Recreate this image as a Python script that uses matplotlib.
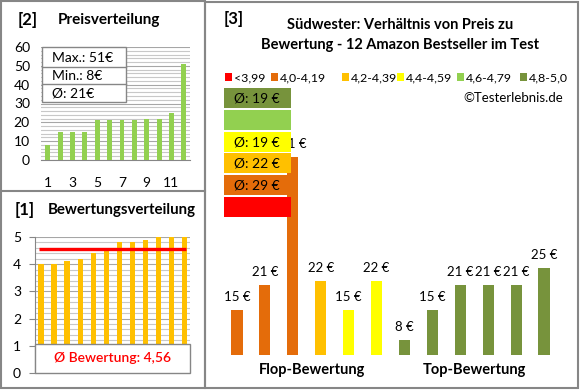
import matplotlib
matplotlib.use('Agg')
import matplotlib.pyplot as plt
from matplotlib.patches import Rectangle
import numpy as np

plt.rcParams['font.family'] = ['Lato', 'DejaVu Sans']

# [2] Preisverteilung (sorted prices)
price_ids = list(range(1, 13))
prices_sorted = [8, 15, 15, 15, 21, 21, 21, 21, 22, 22, 25, 51]
price_ticks = [1, 3, 5, 7, 9, 11]
price_stats = ["Max.: 51€", "Min.: 8€", "Ø: 21€"]

# [1] Bewertungsverteilung
ratings_sorted = [4.0, 4.0, 4.1, 4.2, 4.4, 4.5, 4.8, 4.8, 4.9, 5.0, 5.0, 5.0]
rating_avg = 4.56
rating_text = "Ø Bewertung: 4,56"

# [3] Preis zu Bewertung
bar_prices = [15, 21, 51, 22, 15, 22, 8, 15, 21, 21, 21, 25]
bar_class = [1, 1, 1, 2, 3, 3, 5, 5, 5, 5, 5, 5]
class_labels = ['<3,99', '4,0-4,19', '4,2-4,39', '4,4-4,59', '4,6-4,79', '4,8-5,0']
class_colors = ['#ff0000', '#e46c0a', '#ffc000', '#ffff00', '#92d050', '#77933c']
class_avg = ['', '29', '22', '19', '', '19']
group_labels = ['Flop-Bewertung', 'Top-Bewertung']

W, H = 580, 390
fig = plt.figure(figsize=(W / 100, H / 100), dpi=100)
fig.patch.set_facecolor('white')


def fx(px):
    return px / W


def fy(py):
    return 1 - py / H


def prect(x0, y0, x1, y1, **kw):
    r = Rectangle((fx(x0), fy(y1)), (x1 - x0) / W, (y1 - y0) / H,
                  transform=fig.transFigure, **kw)
    fig.add_artist(r)
    return r


def ptext(x, y, s, **kw):
    fig.text(fx(x), fy(y), s, **kw)


border = '#868686'
grid_major = '#a6a6a6'
grid_minor = '#c8c8c8'

# panel frames
prect(1, 1, 205, 388, fill=False, ec=border, lw=1.5, zorder=5)
prect(205, 2, 578, 388, fill=False, ec=border, lw=1.5, zorder=5)
fig.add_artist(plt.Line2D([fx(1), fx(205)], [fy(191), fy(191)],
                          transform=fig.transFigure, color=border, lw=1.5))

# ---- [2] Preisverteilung
ax2 = fig.add_axes([fx(41), fy(160), (190 - 41) / W, (160 - 47) / H])
ax2.bar(price_ids, prices_sorted, width=0.4, color='#92d050', zorder=3)
ax2.set_xlim(0.45, 12.5)
ax2.set_ylim(0, 60)
ax2.set_yticks(range(0, 61, 10))
ax2.set_yticks(range(0, 61, 2), minor=True)
ax2.set_xticks(price_ticks)
ax2.grid(axis='y', which='major', color=grid_major, lw=0.8)
ax2.grid(axis='y', which='minor', color=grid_minor, lw=0.8)
ax2.tick_params(axis='y', which='both', length=0, pad=8, labelsize=10)
ax2.tick_params(axis='x', length=0, pad=12, labelsize=10)
for s in ['top', 'right', 'left']:
    ax2.spines[s].set_visible(False)
ax2.spines['bottom'].set_color(border)

ptext(18, 20, '[2]', fontsize=12, fontweight='bold', va='center')
ptext(58, 20, 'Preisverteilung', fontsize=11, fontweight='bold', va='center')

prect(42, 47, 126, 102, fc='white', ec=border, lw=1, zorder=4)
for yy in [67, 84]:
    fig.add_artist(plt.Line2D([fx(42), fx(126)], [fy(yy), fy(yy)],
                              transform=fig.transFigure, color=border, lw=1, zorder=4))
for yy, s in zip([58, 76, 93], price_stats):
    ptext(52, yy, s, fontsize=10, va='center', zorder=6)

# ---- [1] Bewertungsverteilung
ax1 = fig.add_axes([fx(35), fy(373), (190 - 35) / W, (373 - 237) / H])
ax1.bar(price_ids, ratings_sorted, width=0.4, color='#ffc000', zorder=3)
ax1.hlines(rating_avg, 0.85, 12.1, color='#ff0000', lw=2.4, zorder=4)
ax1.set_xlim(0.54, 12.42)
ax1.set_ylim(0, 5)
ax1.set_yticks(range(0, 6))
ax1.set_yticks(np.arange(0, 5.01, 0.2), minor=True)
ax1.set_xticks([])
ax1.grid(axis='y', which='major', color=grid_major, lw=0.8)
ax1.grid(axis='y', which='minor', color=grid_minor, lw=0.8)
ax1.tick_params(axis='y', which='major', length=4, color=border, pad=6, labelsize=10)
ax1.tick_params(axis='y', which='minor', length=0)
for s in ['top', 'right', 'bottom']:
    ax1.spines[s].set_visible(False)
ax1.spines['left'].set_color(border)

ptext(15, 210, '[1]', fontsize=12, fontweight='bold', va='center')
ptext(48, 210, 'Bewertungsverteilung', fontsize=10.8, fontweight='bold', va='center')

prect(35, 344, 190, 373, fc='white', ec=border, lw=1, zorder=4)
ptext(112, 358, rating_text, fontsize=10, color='#ff0000', ha='center', va='center',
      fontweight='semibold', zorder=6)

# ---- [3] Preis zu Bewertung
ax3 = fig.add_axes([fx(223), fy(355), (558 - 223) / W, (355 - 100) / H])
xs = np.arange(len(bar_prices))
ax3.bar(xs, bar_prices, width=0.4, color=[class_colors[c] for c in bar_class])
for x, p in zip(xs, bar_prices):
    ax3.annotate(f'{p} €', (x, p), xytext=(0, 5), textcoords='offset points',
                 ha='center', va='bottom', fontsize=9.5)
ax3.set_xlim(-0.5, 11.5)
ax3.set_ylim(4.5, 4.5 + 255 / 4.256)
ax3.axis('off')

ptext(312, 370, group_labels[0], fontsize=10.5, fontweight='bold', ha='center', va='center')
ptext(474, 370, group_labels[1], fontsize=10.5, fontweight='bold', ha='center', va='center')

ptext(224, 19, '[3]', fontsize=12, fontweight='bold', va='center')
ptext(400, 25, 'Südwester: Verhältnis von Preis zu', fontsize=10.5,
      fontweight='bold', ha='center', va='center')
ptext(400, 45, 'Bewertung - 12 Amazon Bestseller im Test', fontsize=10.5,
      fontweight='bold', ha='center', va='center')

# legend row
leg_x = [225, 271, 342, 397, 457, 520]
for lx, lab, col in zip(leg_x, class_labels, class_colors):
    prect(lx, 73, lx + 7, 81, fc=col, ec='none', zorder=6)
    ptext(lx + 9, 77.5, lab, fontsize=8.9, va='center')
ptext(563, 98, '©Testerlebnis.de', fontsize=9.5, ha='right', va='center')

# class average boxes (top = best class)
for i, k in enumerate(range(len(class_colors) - 1, -1, -1)):
    top = 88 + i * 21.8
    prect(224, top, 291, top + 20, fc=class_colors[k], ec='none', zorder=6)
    if class_avg[k]:
        fig.text(fx(234), fy(top + 10.5), f'Ø: {class_avg[k]} €', fontsize=10,
                 va='center', zorder=7)

fig.savefig('out.png', dpi=100, facecolor='white')
